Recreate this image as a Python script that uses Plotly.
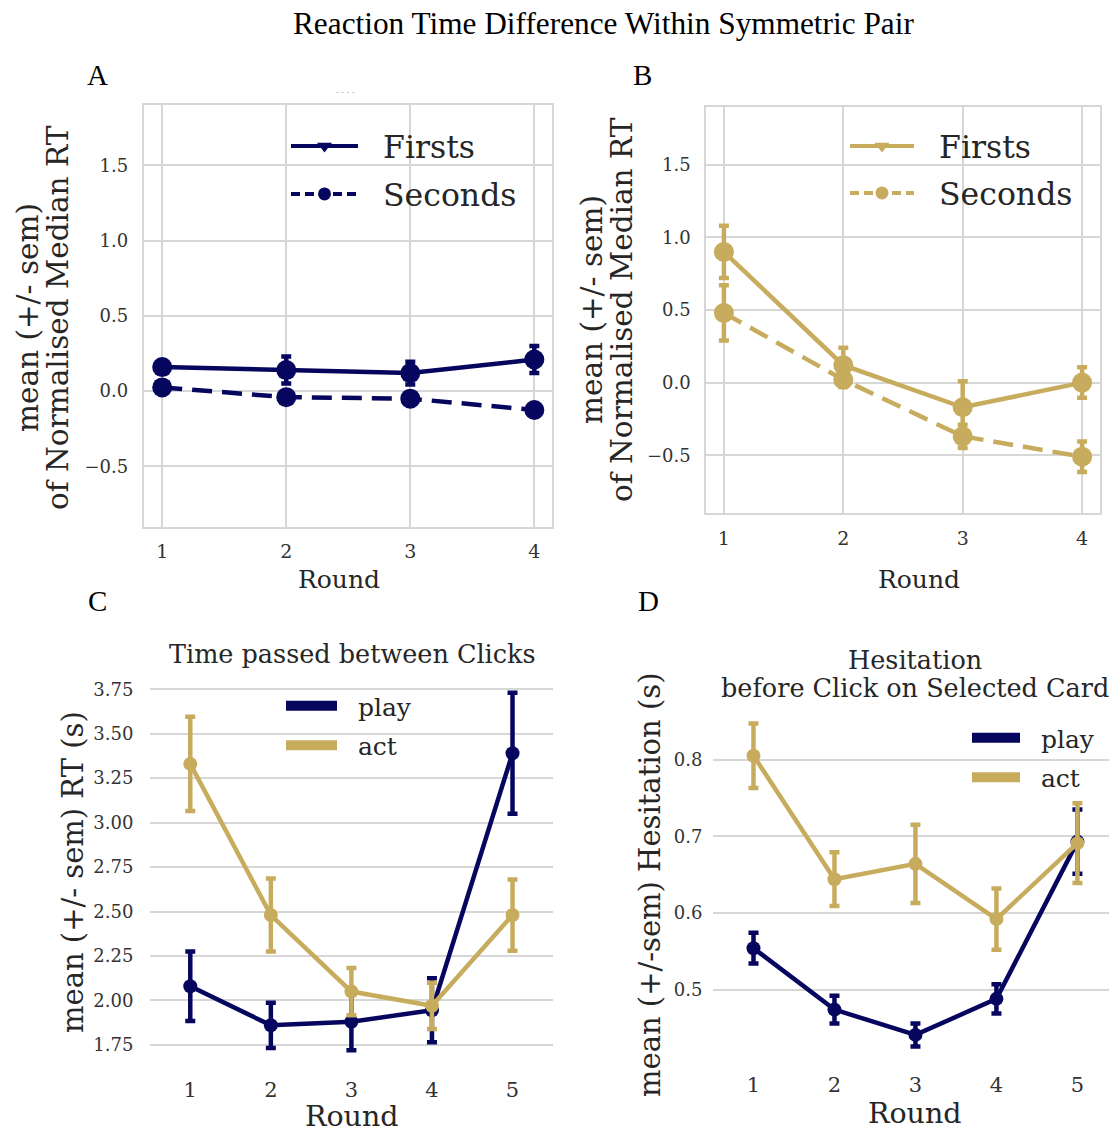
import plotly.graph_objects as go

# ---------------- data ----------------
rounds_ab = [1, 2, 3, 4]
a_firsts = [0.16, 0.14, 0.12, 0.21]
a_firsts_sem = [0.04, 0.09, 0.075, 0.09]
a_seconds = [0.025, -0.04, -0.05, -0.125]
a_seconds_sem = [0.02, 0.02, 0.02, 0.02]

b_firsts = [0.90, 0.12, -0.17, 0.0]
b_firsts_sem = [0.18, 0.12, 0.18, 0.105]
b_seconds = [0.48, 0.02, -0.37, -0.51]
b_seconds_sem = [0.19, 0.05, 0.08, 0.105]

rounds_cd = [1, 2, 3, 4, 5]
c_play = [2.08, 1.86, 1.88, 1.945, 3.39]
c_play_sem = [0.195, 0.127, 0.16, 0.18, 0.34]
c_act = [3.33, 2.48, 2.05, 1.97, 2.48]
c_act_sem = [0.265, 0.205, 0.133, 0.13, 0.2]

d_play = [0.554, 0.474, 0.441, 0.488, 0.693]
d_play_sem = [0.02, 0.018, 0.015, 0.019, 0.042]
d_act = [0.805, 0.644, 0.664, 0.592, 0.691]
d_act_sem = [0.042, 0.035, 0.051, 0.04, 0.052]

ab_yticks = [-0.5, 0.0, 0.5, 1.0, 1.5]
c_yticks = [1.75, 2.00, 2.25, 2.50, 2.75, 3.00, 3.25, 3.50, 3.75]
d_yticks = [0.5, 0.6, 0.7, 0.8]

# ---------------- style ----------------
W, H = 1109, 1133
NAVY = "#06065f"
GOLD = "#c8ac5e"
GRID = "#d7d7d7"
TICK = "#333333"
LAB = "#262626"
SERIF = "DejaVu Serif"
TIMES = "Liberation Serif"
PAD = "\u00a0\u00a0"


def px(x):
    return x / W


def py(y):
    return 1 - y / H


fig = go.Figure()


def series(x, y, sem, color, dash, xa, ya, msize, lw):
    fig.add_trace(go.Scatter(
        x=x, y=y, mode="lines+markers", xaxis=xa, yaxis=ya, showlegend=False,
        line=dict(color=color, width=lw, dash=dash),
        marker=dict(symbol="circle", size=msize, color=color),
        error_y=dict(type="data", array=sem, color=color, thickness=lw, width=5),
    ))


def legend_line(name, color, dash, symbol, xa, ya, leg, group):
    fig.add_trace(go.Scatter(
        x=[None], y=[None], name=PAD + name, mode="lines+markers", xaxis=xa, yaxis=ya,
        legend=leg, legendgroup=group,
        line=dict(color=color, width=4, dash=dash),
        marker=dict(symbol=symbol, size=13, color=color),
    ))


def legend_patch(name, color, xa, ya, leg, group):
    fig.add_trace(go.Scatter(
        x=[None], y=[None], name=PAD + name, mode="lines", xaxis=xa, yaxis=ya,
        legend=leg, legendgroup=group,
        line=dict(color=color, width=16),
    ))


# Panel A
series(rounds_ab, a_firsts, a_firsts_sem, NAVY, "solid", "x", "y", 20, 4.5)
series(rounds_ab, a_seconds, a_seconds_sem, NAVY, "20px,10px", "x", "y", 20, 4.5)
legend_line("Firsts", NAVY, "solid", "triangle-down", "x", "y", "legend", "a1")
legend_line("Seconds", NAVY, "9px,5px", "circle", "x", "y", "legend", "a2")

# Panel B
series(rounds_ab, b_firsts, b_firsts_sem, GOLD, "solid", "x2", "y2", 20, 4.5)
series(rounds_ab, b_seconds, b_seconds_sem, GOLD, "20px,10px", "x2", "y2", 20, 4.5)
legend_line("Firsts", GOLD, "solid", "triangle-down", "x2", "y2", "legend2", "b1")
legend_line("Seconds", GOLD, "9px,5px", "circle", "x2", "y2", "legend2", "b2")

# Panel C
series(rounds_cd, c_play, c_play_sem, NAVY, "solid", "x3", "y3", 14, 4.5)
series(rounds_cd, c_act, c_act_sem, GOLD, "solid", "x3", "y3", 14, 4.5)
legend_patch("play", NAVY, "x3", "y3", "legend3", "c1")
legend_patch("act", GOLD, "x3", "y3", "legend3", "c2")

# Panel D
series(rounds_cd, d_play, d_play_sem, NAVY, "solid", "x4", "y4", 14, 4.5)
series(rounds_cd, d_act, d_act_sem, GOLD, "solid", "x4", "y4", 14, 4.5)
legend_patch("play", NAVY, "x4", "y4", "legend4", "d1")
legend_patch("act", GOLD, "x4", "y4", "legend4", "d2")

boxed_axis = dict(showgrid=True, gridcolor=GRID, gridwidth=1.5, showline=True,
                  linecolor=GRID, linewidth=1.5, mirror=True, zeroline=False,
                  ticks="outside", tickcolor="rgba(0,0,0,0)", fixedrange=True)
open_axis = dict(zeroline=False, showline=False, ticks="outside",
                 tickcolor="rgba(0,0,0,0)", fixedrange=True)


def legend_cfg(x, y, size, gap, itemwidth):
    return dict(x=px(x), y=py(y), xanchor="left", yanchor="top",
                bgcolor="rgba(0,0,0,0)", tracegroupgap=gap, itemwidth=itemwidth,
                font=dict(family=SERIF, size=size, color=LAB))


fig.update_layout(
    width=W, height=H, margin=dict(l=0, r=0, t=0, b=0),
    paper_bgcolor="white", plot_bgcolor="white",
    font=dict(family=SERIF, color=TICK),
    xaxis=dict(domain=[px(143.6), px(551.7)], range=[0.85, 4.14], anchor="y",
               tickvals=rounds_ab, ticklen=7, tickfont=dict(size=19, color=TICK), **boxed_axis),
    yaxis=dict(domain=[py(526.7), py(105)], range=[-0.9, 1.9], anchor="x",
               tickvals=ab_yticks, tickformat=".1f", ticklen=10,
               tickfont=dict(size=18, color=TICK), **boxed_axis),
    xaxis2=dict(domain=[px(706), px(1100)], range=[0.85, 4.15], anchor="y2",
                tickvals=rounds_ab, ticklen=7, tickfont=dict(size=19, color=TICK), **boxed_axis),
    yaxis2=dict(domain=[py(513.3), py(106.7)], range=[-0.9, 1.9], anchor="x2",
                tickvals=ab_yticks, tickformat=".1f", ticklen=10,
                tickfont=dict(size=18, color=TICK), **boxed_axis),
    xaxis3=dict(domain=[px(150), px(552.8)], range=[0.5, 5.5], anchor="y3",
                tickvals=rounds_cd, showgrid=False, ticklen=3,
                tickfont=dict(size=21, color=TICK), **open_axis),
    yaxis3=dict(domain=[py(1068), py(675)], range=[1.62, 3.83], anchor="x3",
                tickvals=c_yticks, tickformat=".2f", showgrid=True, gridcolor=GRID,
                gridwidth=1.5, ticklen=12, tickfont=dict(size=18, color=TICK), **open_axis),
    xaxis4=dict(domain=[px(713), 1.0], range=[0.5, 5.39], anchor="y4",
                tickvals=rounds_cd, showgrid=False, ticklen=3,
                tickfont=dict(size=21, color=TICK), **open_axis),
    yaxis4=dict(domain=[py(1062.5), py(706.6)], range=[0.405, 0.869], anchor="x4",
                tickvals=d_yticks, tickformat=".1f", showgrid=True, gridcolor=GRID,
                gridwidth=1.5, ticklen=6, tickfont=dict(size=18, color=TICK), **open_axis),
    legend=legend_cfg(286, 119, 31.5, 4, 67),
    legend2=legend_cfg(845, 119, 31.5, 3, 64),
    legend3=legend_cfg(281, 683, 25, 4, 51),
    legend4=legend_cfg(967, 715, 25, 4, 48),
)

ann = []


def text(x, y, s, size, family=SERIF, color=LAB, angle=0):
    ann.append(dict(x=px(x), y=py(y), xref="paper", yref="paper", text=s,
                    showarrow=False, xanchor="center", yanchor="middle",
                    textangle=angle, font=dict(family=family, size=size, color=color)))


text(603, 24, "Reaction Time Difference Within Symmetric Pair", 31.3, TIMES, "black")
text(97, 75, "A", 29, TIMES, "black")
text(642, 75, "B", 29, TIMES, "black")
text(97, 601, "C", 29, TIMES, "black")
text(648, 601, "D", 29, TIMES, "black")
text(345, 92, "- - - -", 8, SERIF, "#999999")

text(28, 318, "mean (+/- sem)", 29.5, angle=-90)
text(58, 318, "of Normalised Median RT", 29.5, angle=-90)
text(592, 310, "mean (+/- sem)", 29.5, angle=-90)
text(622, 310, "of Normalised Median RT", 29.5, angle=-90)
text(339, 579, "Round", 25)
text(919, 579, "Round", 25)

text(352, 654, "Time passed between Clicks", 25.5)
text(73, 872, "mean (+/- sem) RT (s)", 29, angle=-90)
text(352, 1116, "Round", 28.5)

text(915, 660, "Hesitation", 25.5)
text(915, 688, "before Click on Selected Card", 25.5)
text(650, 885, "mean (+/-sem) Hesitation (s)", 29, angle=-90)
text(915, 1113, "Round", 28.5)

fig.update_layout(annotations=ann)

fig.write_html("out.html")
